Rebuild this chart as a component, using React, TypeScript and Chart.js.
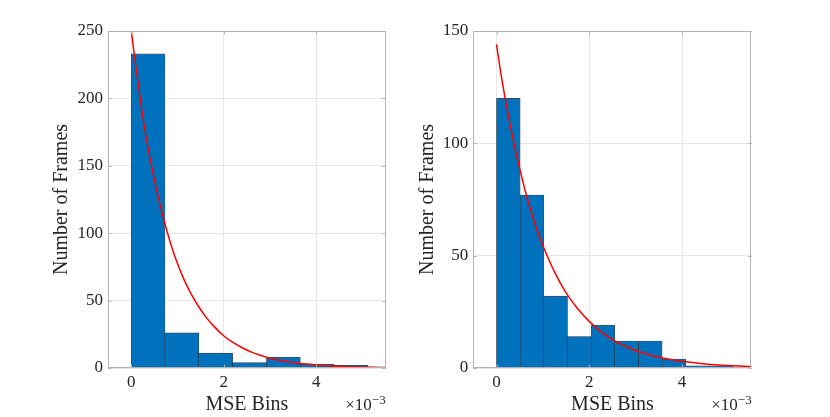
import React, { useEffect, useRef } from "react";
import { Chart, registerables } from "chart.js";

Chart.register(...registerables);

// MSE values are raw; the x axis shows them in units of 1e-3
const xTicks = [0, 0.002, 0.004];

const leftBinEdges = [0, 0.000731, 0.001462, 0.002193, 0.002924, 0.003655, 0.004386, 0.005117];
const leftCounts = [233, 26, 11, 4, 8, 3, 2];
const leftFitX = [
  0, 0.0001, 0.0002, 0.0003, 0.0004, 0.00055, 0.00073, 0.00087, 0.001, 0.00115, 0.00131, 0.00145, 0.0016,
  0.0018, 0.00203, 0.0022, 0.0024, 0.0026, 0.00276, 0.003, 0.0032, 0.0034, 0.0036, 0.0038, 0.004, 0.00425,
  0.0045, 0.00475, 0.005, 0.00525, 0.0055,
];
const leftFitY = [
  251, 224, 199, 176, 157, 132, 107, 90.5, 77.5, 65, 54, 46, 38.5,
  30.5, 23, 19, 15, 11.8, 9.8, 7.3, 5.8, 4.6, 3.6, 2.9, 2.3, 1.7,
  1.3, 0.95, 0.7, 0.52, 0.4,
];
const leftYTicks = [0, 50, 100, 150, 200, 250];

const rightBinEdges = [0, 0.00051, 0.00102, 0.00153, 0.00204, 0.00255, 0.00306, 0.00357, 0.00408, 0.00459, 0.0051];
const rightCounts = [120, 77, 32, 14, 19, 12, 12, 4, 1, 1];
const rightFitX = [
  0, 0.0001, 0.00025, 0.0004, 0.00051, 0.00063, 0.00075, 0.00088, 0.00101, 0.00125, 0.0015, 0.00175,
  0.00202, 0.00225, 0.00255, 0.00275, 0.003, 0.00325, 0.0035, 0.00375, 0.004, 0.0045, 0.005, 0.0055,
];
const rightFitY = [
  144, 130.4, 113, 97.6, 88, 78, 69.4, 61, 54, 42.8, 33.4, 26.4,
  20.3, 16.2, 12.1, 10, 7.8, 6.1, 4.8, 3.8, 3.0, 1.8, 1.1, 0.7,
];
const rightYTicks = [0, 50, 100, 150];

const FONT = "'Liberation Serif', 'Times New Roman', serif";
const TEXT = "#262626";
const AXIS = "#b3b3b3";
const GRID = "#e8e8e8";
const BLUE = "#0072bd";

// box round the plot, MATLAB-style inward ticks and the x10^-3 exponent
const framePlugin = {
  id: "frame",
  afterDatasetsDraw(chart: any) {
    const { ctx, chartArea: a, scales } = chart;
    ctx.save();
    ctx.strokeStyle = AXIS;
    ctx.lineWidth = 1;
    ctx.strokeRect(Math.round(a.left) + 0.5, Math.round(a.top) + 0.5, Math.round(a.width) - 1, Math.round(a.height) - 1);
    const len = 3.5;
    ctx.beginPath();
    for (const t of scales.x.ticks) {
      const px = Math.round(scales.x.getPixelForValue(t.value)) + 0.5;
      ctx.moveTo(px, a.bottom);
      ctx.lineTo(px, a.bottom - len);
      ctx.moveTo(px, a.top);
      ctx.lineTo(px, a.top + len);
    }
    for (const t of scales.y.ticks) {
      const py = Math.round(scales.y.getPixelForValue(t.value)) + 0.5;
      ctx.moveTo(a.left, py);
      ctx.lineTo(a.left + len, py);
      ctx.moveTo(a.right, py);
      ctx.lineTo(a.right - len, py);
    }
    ctx.stroke();
    ctx.restore();
  },
  afterDraw(chart: any) {
    const { ctx, chartArea: a } = chart;
    ctx.save();
    ctx.fillStyle = TEXT;
    ctx.textAlign = "right";
    ctx.textBaseline = "alphabetic";
    ctx.font = `13px ${FONT}`;
    const sup = "\u22123";
    const w = ctx.measureText(sup).width;
    ctx.fillText(sup, a.right, 404);
    ctx.font = `17px ${FONT}`;
    ctx.fillText("\u00d710", a.right - w, 410);
    ctx.restore();
  },
};

type PanelProps = {
  edges: number[];
  counts: number[];
  fitX: number[];
  fitY: number[];
  yTicks: number[];
  padLeft: number;
  padRight: number;
  yWidth: number;
  left: number;
};

function HistPanel({ edges, counts, fitX, fitY, yTicks, padLeft, padRight, yWidth, left }: PanelProps) {
  const canvasRef = useRef<HTMLCanvasElement>(null);

  useEffect(() => {
    const ctx = canvasRef.current?.getContext("2d");
    if (!ctx) return;

    const bars = counts.map((c, i) => ({ x: (edges[i] + edges[i + 1]) / 2, y: c }));
    const fit = fitX.map((x, i) => ({ x, y: fitY[i] }));

    const chart = new Chart(ctx, {
      type: "bar",
      data: {
        datasets: [
          {
            type: "bar",
            data: bars as any,
            backgroundColor: BLUE,
            borderColor: "rgba(0,0,0,0.75)",
            borderWidth: 0.6,
            barPercentage: 1,
            categoryPercentage: 1,
            grouped: false,
            order: 1,
            clip: 0,
          } as any,
          {
            type: "line",
            data: fit as any,
            borderColor: "#ff0000",
            borderWidth: 1.5,
            pointRadius: 0,
            cubicInterpolationMode: "monotone",
            order: 0,
          } as any,
        ],
      },
      options: {
        animation: false,
        responsive: false,
        layout: { padding: { left: padLeft, right: padRight, top: 31, bottom: 0 } },
        plugins: { legend: { display: false }, tooltip: { enabled: false } },
        scales: {
          x: {
            type: "linear",
            min: -0.0005,
            max: 0.0055,
            offset: false,
            afterBuildTicks: (s: any) => {
              s.ticks = xTicks.map((v) => ({ value: v }));
            },
            afterFit: (s: any) => {
              s.height = 49;
            },
            ticks: {
              callback: (v: any) => String(Math.round(Number(v) * 1000)),
              color: TEXT,
              font: { family: FONT, size: 17 },
              padding: 4,
              maxRotation: 0,
              autoSkip: false,
            },
            grid: { color: GRID, drawTicks: false, offset: false },
            border: { display: false },
            title: { display: true, text: "MSE Bins", color: TEXT, font: { family: FONT, size: 20 }, padding: 0 },
          },
          y: {
            type: "linear",
            min: yTicks[0],
            max: yTicks[yTicks.length - 1],
            afterBuildTicks: (s: any) => {
              s.ticks = yTicks.map((v) => ({ value: v }));
            },
            afterFit: (s: any) => {
              s.width = yWidth;
            },
            ticks: { color: TEXT, font: { family: FONT, size: 17 }, padding: 5 },
            grid: { color: GRID, drawTicks: false },
            border: { display: false },
            title: { display: true, text: "Number of Frames", color: TEXT, font: { family: FONT, size: 20 }, padding: 0 },
          },
        },
      } as any,
      plugins: [framePlugin],
    });

    return () => chart.destroy();
  }, []);

  return (
    <canvas
      ref={canvasRef}
      width={415}
      height={417}
      style={{ position: "absolute", left, top: 0, width: 415, height: 417 }}
    />
  );
}

export default function App() {
  return (
    <div style={{ position: "fixed", left: 0, top: 0, width: 830, height: 417, background: "#fff" }}>
      <HistPanel
        edges={leftBinEdges}
        counts={leftCounts}
        fitX={leftFitX}
        fitY={leftFitY}
        yTicks={leftYTicks}
        padLeft={49.5}
        padRight={29.3}
        yWidth={58.5}
        left={0}
      />
      <HistPanel
        edges={rightBinEdges}
        counts={rightCounts}
        fitX={rightFitX}
        fitY={rightFitY}
        yTicks={rightYTicks}
        padLeft={1}
        padRight={78.3}
        yWidth={57.3}
        left={415}
      />
    </div>
  );
}
